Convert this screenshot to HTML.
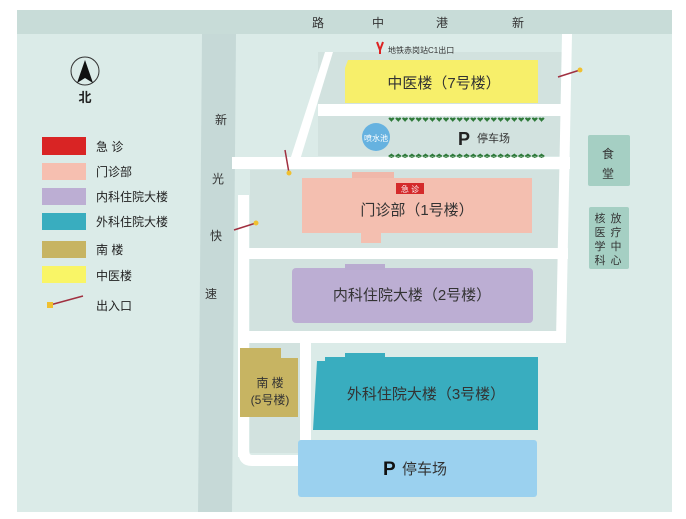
<!DOCTYPE html>
<html><head><meta charset="utf-8"><style>
html,body{margin:0;padding:0;background:#fff;}
svg{display:block;font-family:"Liberation Sans","Noto Sans CJK SC",sans-serif;}
</style></head><body>
<svg width="686" height="519" viewBox="0 0 686 519">
<rect x="0" y="0" width="686" height="519" fill="#fff"/>
<rect x="17" y="10" width="655" height="502" fill="#dbebe8"/>
<rect x="17" y="10" width="655" height="24" fill="#c8dcd8"/>
<polygon points="202,34 236,34 232,512 198,512" fill="#c6d9d7"/>
<!-- blocks -->
<rect x="318" y="52" width="244" height="52" fill="#d2e2df"/>
<rect x="318" y="116" width="244" height="40" fill="#d2e2df"/>
<rect x="250" y="170" width="312" height="78" fill="#d2e2df"/>
<rect x="250" y="259" width="314" height="72" fill="#d2e2df"/>
<rect x="250" y="343" width="50" height="110" fill="#d2e2df"/>
<!-- white roads -->
<g fill="#fff">
<polygon points="562,34 572,34 566,340 556,340"/>
<rect x="318" y="104" width="252" height="12"/>
<polygon points="325,52 333,52 300,160 290,160"/>
<rect x="232" y="157" width="338" height="12"/>
<rect x="240" y="248" width="328" height="11"/>
<rect x="240" y="331" width="326" height="12"/>
<rect x="238" y="195" width="11" height="262"/>
<path d="M238,450 Q238,466 252,466 L298,466 L298,455 L252,455 Q249,455 249,450 Z"/>
<rect x="300" y="340" width="11" height="100"/>
</g>
<!-- buildings -->
<path d="M348,60 L538,60 L538,103 L345,103 L345,68 Z" fill="#f7ef6a"/>
<circle cx="376" cy="137" r="14" fill="#66b2e0"/>
<text x="376" y="141" font-size="8" fill="#fff" text-anchor="middle">喷水池</text>
<g fill="#2f7a3a" font-size="8">
<text x="388" y="122" textLength="157" lengthAdjust="spacingAndGlyphs">♥♥♥♥♥♥♥♥♥♥♥♥♥♥♥♥♥♥♥♥♥♥♥</text>
<text x="388" y="158" textLength="157" lengthAdjust="spacingAndGlyphs">♠♠♠♠♠♠♠♠♠♠♠♠♠♠♠♠♠♠♠♠♠♠♠</text>
</g>
<text x="458" y="145" font-size="18" font-weight="bold" fill="#222">P</text>
<text x="477" y="142" font-size="11" fill="#333">停车场</text>
<rect x="352" y="172" width="42" height="8" fill="#f0b8aa"/>
<rect x="302" y="178" width="230" height="55" fill="#f4bfb0"/>
<rect x="361" y="233" width="20" height="10" fill="#f4bfb0"/>
<rect x="396" y="183" width="28" height="11" fill="#d42a2a"/>
<text x="410" y="192" font-size="8" fill="#fff" text-anchor="middle">急 诊</text>
<rect x="292" y="268" width="241" height="55" rx="4" fill="#bcaed3"/>
<rect x="345" y="264" width="40" height="6" fill="#b9acd0"/>
<path d="M317,361 L325,361 L325,357 L538,357 L538,430 L313,430 Z" fill="#39adbf"/>
<rect x="345" y="353" width="40" height="6" fill="#39adbf"/>
<path d="M240,348 L281,348 L281,358 L298,358 L298,417 L240,417 Z" fill="#c7b462"/>
<rect x="298" y="440" width="239" height="57" rx="3" fill="#9bd1ef"/>
<rect x="588" y="135" width="42" height="51" rx="2" fill="#a5cfc3"/>
<rect x="589" y="207" width="40" height="62" rx="2" fill="#a5cfc3"/>
<!-- building texts -->
<g fill="#333" font-size="15" text-anchor="middle">
<text x="444" y="88">中医楼（7号楼）</text>
<text x="417" y="215">门诊部（1号楼）</text>
<text x="412" y="300">内科住院大楼（2号楼）</text>
<text x="426" y="399">外科住院大楼（3号楼）</text>
</g>
<text x="383" y="475" font-size="19" font-weight="bold" fill="#111">P</text>
<text x="402" y="474" font-size="15" fill="#333">停车场</text>
<text x="270" y="387" font-size="12" fill="#333" text-anchor="middle">南 楼</text>
<text x="270" y="404" font-size="12" fill="#333" text-anchor="middle">(5号楼)</text>
<g font-size="12" fill="#333" text-anchor="middle">
<text x="608" y="158">食</text><text x="608" y="178">堂</text>
<text x="600" y="222" font-size="11">核</text><text x="600" y="236" font-size="11">医</text><text x="600" y="250" font-size="11">学</text><text x="600" y="264" font-size="11">科</text>
<text x="616" y="222" font-size="11">放</text><text x="616" y="236" font-size="11">疗</text><text x="616" y="250" font-size="11">中</text><text x="616" y="264" font-size="11">心</text>
</g>
<!-- road names -->
<g font-size="12" fill="#333" text-anchor="middle">
<text x="318" y="27">路</text><text x="378" y="27">中</text><text x="442" y="27">港</text><text x="518" y="27">新</text>
<text x="221" y="124">新</text><text x="218" y="183">光</text><text x="216" y="240">快</text><text x="211" y="298">速</text>
</g>
<!-- subway -->
<path d="M377,42 L380,50 M383,42 L380,50 L380,54" stroke="#d22" stroke-width="2" fill="none"/>
<text x="388" y="53" font-size="8" fill="#333">地铁赤岗站C1出口</text>
<!-- entrances -->
<g stroke="#a03040" stroke-width="1.5">
<line x1="558" y1="77" x2="580" y2="70"/>
<line x1="285" y1="150" x2="289" y2="173"/>
<line x1="234" y1="230" x2="256" y2="223"/>
<line x1="50" y1="305" x2="83" y2="296"/>
</g>
<g fill="#f0c030">
<circle cx="580" cy="70" r="2.5"/><circle cx="289" cy="173" r="2.5"/><circle cx="256" cy="223" r="2.5"/><rect x="47" y="302" width="6" height="6"/>
</g>
<!-- compass -->
<circle cx="85" cy="71" r="14" fill="none" stroke="#333" stroke-width="1"/>
<path d="M85,60 L93,83 L85,78 L77,83 Z" fill="#111"/>
<text x="85" y="102" font-size="13" font-weight="bold" fill="#222" text-anchor="middle">北</text>
<!-- legend -->
<rect x="42" y="137" width="44" height="18" fill="#d92424"/>
<rect x="42" y="163" width="44" height="17" fill="#f6bfb0"/>
<rect x="42" y="188" width="44" height="17" fill="#bcaed3"/>
<rect x="42" y="213" width="44" height="17" fill="#39adbf"/>
<rect x="42" y="241" width="44" height="17" fill="#c7b462"/>
<rect x="42" y="266" width="44" height="17" fill="#f9f566"/>
<g font-size="12" fill="#222">
<text x="96" y="151">急 诊</text>
<text x="96" y="176">门诊部</text>
<text x="96" y="201">内科住院大楼</text>
<text x="96" y="226">外科住院大楼</text>
<text x="96" y="254">南 楼</text>
<text x="96" y="280">中医楼</text>
<text x="96" y="310">出入口</text>
</g>
</svg>
</body></html>
